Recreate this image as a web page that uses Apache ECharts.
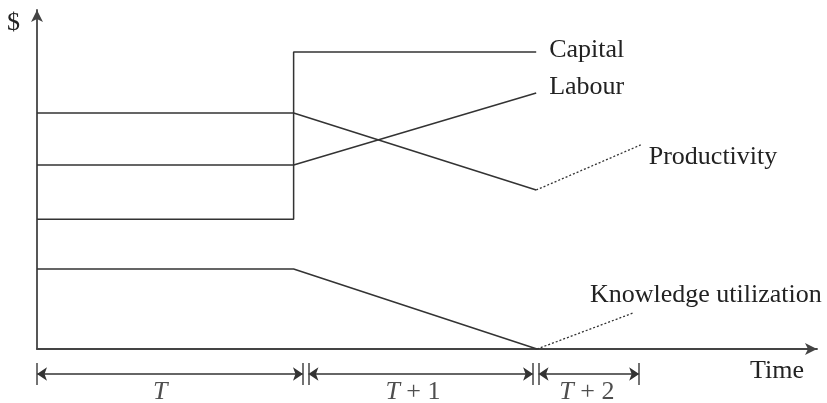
<!DOCTYPE html>
<html>
<head>
<meta charset="utf-8">
<script src="https://cdn.jsdelivr.net/npm/echarts@6/dist/echarts.min.js"></script>
<style>
  html, body { margin: 0; padding: 0; background: #fff; }
  #chart { width: 827px; height: 403px; }
</style>
</head>
<body>
<div id="chart"></div>
<script>
// time runs 0..100 along the axis, $ runs 0..100 up the axis
const capitalX = [0, 32.9, 32.9, 64.0];
const capitalY = [38.3, 38.3, 87.6, 87.6];
const labourX = [0, 32.9, 64.0];
const labourY = [54.3, 54.3, 75.5];
const productivityX = [0, 32.9, 64.0];
const productivityY = [69.6, 69.6, 46.9];
const productivityTrendX = [64.0, 77.4];
const productivityTrendY = [46.9, 60.2];
const knowledgeX = [0, 32.9, 64.1];
const knowledgeY = [23.6, 23.6, 0];
const knowledgeTrendX = [64.1, 76.4];
const knowledgeTrendY = [0, 10.6];

// periods marked under the time axis
const periodLabels = ['{i|T}', '{i|T} + 1', '{i|T} + 2'];
const periodStart = [0, 34.8, 64.3];
const periodEnd = [34.1, 63.6, 77.2];
const periodLabelX = [15.8, 48.2, 70.5];

const ink = '#333';
const serif = 'Liberation Serif';

const zip = (xs, ys) => xs.map((x, i) => [x, ys[i]]);

const chart = echarts.init(document.getElementById('chart'));

function curve(name, xs, ys, dotted, label) {
  return {
    name: name,
    type: 'line',
    data: zip(xs, ys),
    showSymbol: false,
    clip: false,
    lineStyle: { color: ink, width: dotted ? 1.3 : 1.5, type: dotted ? [2, 2] : 'solid' },
    endLabel: label ? Object.assign({
      show: true,
      formatter: name,
      color: '#222',
      fontFamily: serif,
      fontSize: 26,
      align: 'left'
    }, label) : { show: false }
  };
}

const bracketLines = [];
const bracketTicks = [];
periodStart.forEach((s, i) => {
  bracketLines.push({ coords: [[s, 29], [periodEnd[i], 29]] });
});
[0].concat(...periodStart.slice(1).map((s, i) => [periodEnd[i], s]), periodEnd[periodEnd.length - 1])
  .forEach(x => bracketTicks.push({ coords: [[x, 18], [x, 40]] }));

chart.setOption({
  animation: false,
  grid: [
    { left: 37, right: 10, top: 10, bottom: 54 },
    { left: 37, right: 10, top: 363, bottom: 0 }
  ],
  xAxis: [
    {
      type: 'value', min: 0, max: 100,
      name: 'Time',
      nameLocation: 'end',
      nameGap: -67,
      nameTextStyle: { fontFamily: serif, fontSize: 26, color: '#222', align: 'left', verticalAlign: 'top', padding: [9, 0, 0, 0] },
      axisLine: { show: true, symbol: ['none', 'arrow'], symbolSize: [9, 12], lineStyle: { color: '#444', width: 1.8 } },
      axisTick: { show: false }, axisLabel: { show: false }, splitLine: { show: false }
    },
    { type: 'value', gridIndex: 1, min: 0, max: 100, show: false }
  ],
  yAxis: [
    {
      type: 'value', min: 0, max: 100,
      name: '$',
      nameLocation: 'end',
      nameGap: -13,
      nameTextStyle: { fontFamily: serif, fontSize: 26, color: '#222', align: 'right', verticalAlign: 'middle', padding: [0, 17, 0, 0] },
      axisLine: { show: true, symbol: ['none', 'arrow'], symbolSize: [9, 12], lineStyle: { color: '#444', width: 1.8 } },
      axisTick: { show: false }, axisLabel: { show: false }, splitLine: { show: false }
    },
    { type: 'value', gridIndex: 1, min: 0, max: 40, show: false }
  ],
  series: [
    curve('Capital', capitalX, capitalY, false, { distance: 13, offset: [0, -1.5] }),
    curve('Labour', labourX, labourY, false, { distance: 13, offset: [0, -6] }),
    curve('Productivity', productivityX, productivityY, false),
    curve('Productivity', productivityTrendX, productivityTrendY, true, { distance: 8, offset: [0, 12.5] }),
    curve('Knowledge', knowledgeX, knowledgeY, false),
    curve('Knowledge utilization', knowledgeTrendX, knowledgeTrendY, true, { distance: 0, offset: [-43, -17.5] }),
    {
      type: 'lines',
      coordinateSystem: 'cartesian2d',
      xAxisIndex: 1, yAxisIndex: 1,
      data: bracketLines,
      symbol: ['arrow', 'arrow'],
      symbolSize: 10,
      lineStyle: { color: ink, width: 1.5, opacity: 1 }
    },
    {
      type: 'lines',
      coordinateSystem: 'cartesian2d',
      xAxisIndex: 1, yAxisIndex: 1,
      data: bracketTicks,
      lineStyle: { color: '#444', width: 1.5, opacity: 1 }
    },
    {
      type: 'scatter',
      xAxisIndex: 1, yAxisIndex: 1,
      clip: false,
      symbolSize: 1,
      itemStyle: { color: 'rgba(0,0,0,0)' },
      data: periodLabelX.map((x, i) => ({ value: [x, 11], label: { formatter: periodLabels[i] } })),
      label: {
        show: true,
        position: 'inside',
        fontFamily: serif,
        fontSize: 26,
        color: '#222',
        rich: { i: { fontFamily: serif, fontSize: 26, fontStyle: 'italic', color: '#222' } }
      }
    }
  ]
});
</script>
</body>
</html>
